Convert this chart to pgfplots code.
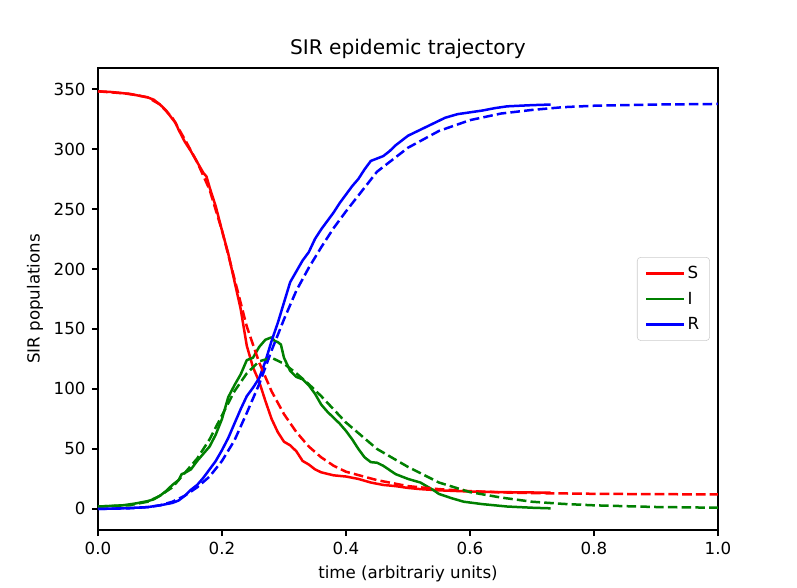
\documentclass[border=0pt]{standalone}
\usepackage{fontspec}
\setmainfont{DejaVu Sans}
\usepackage{pgfplots}
\pgfplotsset{compat=1.18}
\definecolor{mplgreen}{rgb}{0,0.5,0}
\begin{document}
\begin{tikzpicture}
\useasboundingbox (-70.56pt,-41.76pt) rectangle (503.3pt,381.56pt);
\begin{axis}[
  scale only axis,
  width=446.4pt, height=332.64pt,
  xmin=0, xmax=1, ymin=-17.5, ymax=367.5,
  xtick={0,0.2,0.4,0.6,0.8,1.0},
  xticklabels={0.0,0.2,0.4,0.6,0.8,1.0},
  ytick={0,50,100,150,200,250,300,350},
  /pgf/number format/assume math mode=true,
  tick align=outside, xtick pos=left, ytick pos=left,
  major tick length=4.4pt,
  tick style={black, line width=1pt},
  axis line style={line width=1pt},
  every tick label/.append style={font=\fontsize{12}{14}\selectfont},
  xticklabel style={inner sep=4.4pt},
  yticklabel style={inner sep=4.4pt},
  title={SIR epidemic trajectory},
  title style={font=\fontsize{14.5}{17}\selectfont, at={(axis description cs:0.5,1.0223)}, anchor=center},
  xlabel={time (arbitrariy units)},
  ylabel={SIR populations},
  label style={font=\fontsize{12}{14}\selectfont},
  xlabel style={at={(axis description cs:0.5,-0.0953)}, anchor=center},
  ylabel style={at={(axis description cs:-0.1017,0.5)}, anchor=center},
  legend style={at={(1,0.5)}, anchor=east, xshift=-5.8pt, draw=black!20, rounded corners=2.5pt,
    fill=white, font=\fontsize{12}{14}\selectfont, row sep=4pt, inner xsep=5.5pt, inner ysep=4.5pt},
  legend cell align={left},
  legend image code/.code={\draw[#1] (0pt,0pt) -- (27pt,0pt);},
  every axis plot/.append style={line width=1.8pt, line join=round},
]
% stochastic S
\addplot[red, line width=1.8pt] coordinates {
(0,348) (0.02,347.5) (0.04,346.5) (0.06,345) (0.08,343) (0.09,341) (0.10,337) (0.11,332) (0.12,325) (0.125,322) (0.13,316) (0.14,306) (0.15,298) (0.16,289) (0.17,280) (0.175,277) (0.18,268) (0.19,252) (0.20,232) (0.21,213) (0.22,190) (0.23,167) (0.24,136) (0.25,118) (0.26,106) (0.27,90) (0.28,75) (0.29,64) (0.30,56) (0.31,53) (0.32,48) (0.33,40) (0.34,37) (0.35,33) (0.36,30.5) (0.38,28) (0.40,27) (0.42,25) (0.44,22) (0.46,20) (0.48,19) (0.50,17.5) (0.52,16.5) (0.55,15.5) (0.60,14.5) (0.65,14) (0.70,13.7) (0.73,13.6)
};
\addlegendentry{S}
% stochastic I
\addplot[mplgreen, line width=1.8pt] coordinates {
(0,2) (0.02,2.5) (0.04,3) (0.06,4.5) (0.08,6.5) (0.09,8) (0.10,11) (0.11,15) (0.12,20) (0.13,24) (0.135,29) (0.14,30) (0.15,33) (0.16,40) (0.17,46) (0.18,52) (0.19,62) (0.20,75) (0.21,93) (0.22,103) (0.23,112) (0.24,124) (0.25,126) (0.26,135) (0.27,141) (0.28,143) (0.285,140) (0.29,139) (0.295,137) (0.30,126) (0.31,115) (0.32,110) (0.33,108) (0.34,103) (0.35,96) (0.36,87) (0.37,81) (0.38,76) (0.39,71) (0.40,65) (0.41,58) (0.42,50) (0.43,43) (0.44,39) (0.45,38.5) (0.46,36) (0.47,32.5) (0.48,29) (0.50,25) (0.52,22) (0.54,16) (0.55,12.5) (0.57,9) (0.59,6) (0.62,4) (0.66,2) (0.70,1) (0.73,0.5)
};
\addlegendentry{I}
% stochastic R
\addplot[blue, line width=1.8pt] coordinates {
(0,0) (0.04,0.5) (0.08,1.5) (0.10,3) (0.12,5) (0.13,7) (0.14,11) (0.15,16) (0.16,20) (0.17,26) (0.18,33) (0.19,40) (0.20,49) (0.21,59) (0.22,71) (0.23,83) (0.24,94) (0.25,101) (0.26,109) (0.27,123) (0.28,140) (0.29,155) (0.30,172) (0.31,189) (0.32,198) (0.33,207) (0.34,214) (0.35,225) (0.36,233) (0.37,240) (0.38,247) (0.39,255) (0.40,262) (0.41,269) (0.42,275) (0.43,283) (0.44,290) (0.45,292) (0.46,294) (0.47,298) (0.48,303) (0.49,307) (0.50,311) (0.52,316) (0.54,321) (0.56,326) (0.58,329) (0.60,330.5) (0.62,332) (0.64,334) (0.66,335.5) (0.68,336) (0.70,336.5) (0.73,337)
};
\addlegendentry{R}
% deterministic S
\addplot[red, dash pattern=on 6.9pt off 3pt, forget plot] coordinates {
(0,348) (0.05,346) (0.08,343) (0.10,337) (0.12,326) (0.14,308) (0.16,289) (0.18,266) (0.20,232) (0.22,192) (0.24,152) (0.26,122) (0.28,98) (0.30,79) (0.32,64) (0.34,52) (0.36,43) (0.38,36) (0.40,31) (0.45,24) (0.50,19) (0.55,16.5) (0.60,14.8) (0.65,13.8) (0.70,13.2) (0.80,12.6) (0.90,12.3) (1.0,12.1)
};
% deterministic I
\addplot[mplgreen, dash pattern=on 6.9pt off 3pt, forget plot] coordinates {
(0,2) (0.05,3) (0.08,6) (0.10,11) (0.12,18) (0.14,30) (0.16,42) (0.18,58) (0.20,78) (0.22,98) (0.24,113) (0.26,123) (0.28,126) (0.30,121) (0.32,113) (0.34,104) (0.36,94) (0.38,83) (0.40,72) (0.45,50) (0.50,35) (0.55,22) (0.60,14) (0.65,9.5) (0.70,6) (0.75,4.2) (0.80,3) (0.90,1.6) (1.0,1)
};
% deterministic R
\addplot[blue, dash pattern=on 6.9pt off 3pt, forget plot] coordinates {
(0,0) (0.05,0.5) (0.08,1.5) (0.10,3) (0.12,6) (0.14,11) (0.16,18) (0.18,27) (0.20,40) (0.22,57) (0.24,80) (0.26,104) (0.28,132) (0.30,158) (0.32,182) (0.34,201) (0.36,218) (0.38,234) (0.40,248) (0.45,281) (0.50,301) (0.55,315) (0.60,324) (0.65,329.5) (0.70,332.5) (0.75,334.8) (0.80,336) (0.90,337) (1.0,337.5)
};
\end{axis}
\end{tikzpicture}
\end{document}
